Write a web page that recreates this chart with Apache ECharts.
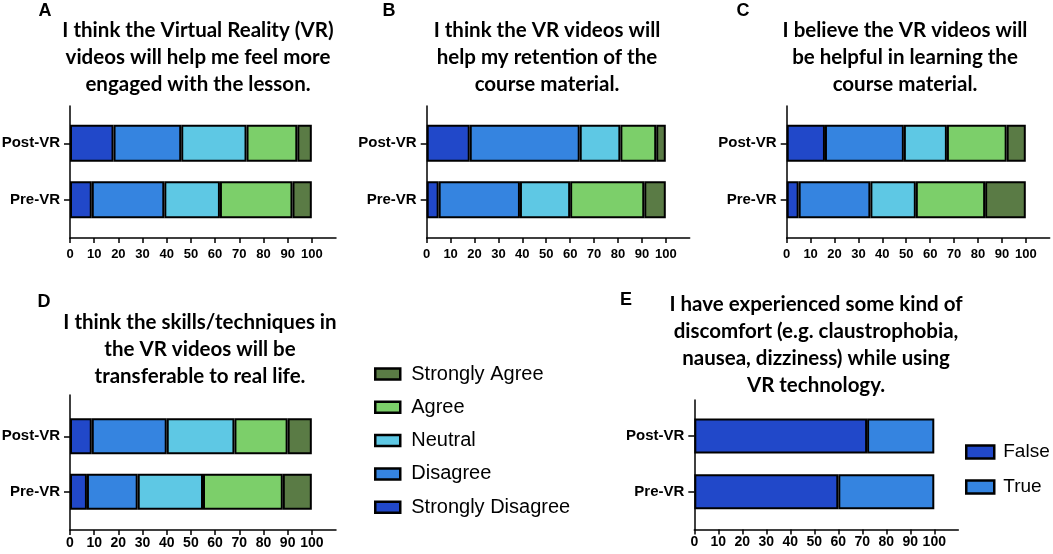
<!DOCTYPE html>
<html>
<head>
<meta charset="utf-8">
<script src="https://cdn.jsdelivr.net/npm/echarts@6/dist/echarts.min.js"></script>
<style>
html, body { margin: 0; padding: 0; background: #fff; }
#main { width: 1053px; height: 554px; }
</style>
</head>
<body>
<div id="main"></div>
<script>
var categories = ['Pre-VR', 'Post-VR'];
var levels = ['Strongly Disagree', 'Disagree', 'Neutral', 'Agree', 'Strongly Agree'];
var legendLevels = ['Strongly Agree', 'Agree', 'Neutral', 'Disagree', 'Strongly Disagree'];
var answers = ['False', 'True'];
var xTicks = [0, 10, 20, 30, 40, 50, 60, 70, 80, 90, 100];

// percent per level, [Pre-VR, Post-VR]
var panelA = [[9, 18], [30, 28], [23, 27], [30, 21], [8, 6]];
var panelB = [[5, 18], [34, 46], [21, 17], [31, 15], [9, 4]];
var panelC = [[5, 16], [30, 33], [19, 18], [29, 25], [17, 8]];
var panelD = [[7, 9], [21, 31], [27, 28], [33, 22], [12, 10]];
var panelE = [[60, 72], [40, 28]];

var titleA = 'I think the Virtual Reality (VR)\nvideos will help me feel more\nengaged with the lesson.';
var titleB = 'I think the VR videos will\nhelp my retention of the\ncourse material.';
var titleC = 'I believe the VR videos will\nbe helpful in learning the\ncourse material.';
var titleD = 'I think the skills/techniques in\nthe VR videos will be\ntransferable to real life.';
var titleE = 'I have experienced some kind of\ndiscomfort (e.g. claustrophobia,\nnausea, dizziness) while using\nVR technology.';

var levelColors = ['#2148c9', '#3584e0', '#5ec8e4', '#7ccf6a', '#5a7b45'];
var answerColors = ['#2148c9', '#3584e0'];

// frame = box of the axis lines, bar = box the two bars sit in
var panels = [
    {letter: 'A', lx: 45, ly: 11, title: titleA, tx: 198, ty: 57, left: 70, width: 266, top: 106, height: 132, barTop: 115, barHeight: 113, bw: 37, fs: 13, lm: 10, data: panelA, names: levels, colors: levelColors},
    {letter: 'B', lx: 389, ly: 11, title: titleB, tx: 547, ty: 57, left: 426.7, width: 263, top: 106, height: 132, barTop: 115, barHeight: 113, bw: 37, fs: 13, lm: 10, data: panelB, names: levels, colors: levelColors},
    {letter: 'C', lx: 743, ly: 11, title: titleC, tx: 905, ty: 57, left: 786.7, width: 263, top: 106, height: 132, barTop: 115, barHeight: 113, bw: 37, fs: 13, lm: 10, data: panelC, names: levels, colors: levelColors},
    {letter: 'D', lx: 44, ly: 302, title: titleD, tx: 200, ty: 349, left: 70, width: 266, top: 395, height: 135, barTop: 408.5, barHeight: 111, bw: 36, fs: 14, lm: 6, data: panelD, names: levels, colors: levelColors},
    {letter: 'E', lx: 626, ly: 300, title: titleE, tx: 816, ty: 345, left: 694.3, width: 264, top: 400, height: 129.5, barTop: 408, barHeight: 111.5, bw: 35, fs: 14, lm: 6, data: panelE, names: answers, colors: answerColors}
];

var font = 'Liberation Sans';
var grids = [], xAxes = [], yAxes = [], series = [], graphics = [];

panels.forEach(function (p, i) {
    grids.push({left: p.left, top: p.top, width: p.width, height: p.height, outerBoundsMode: 'none'});
    grids.push({left: p.left, top: p.barTop, width: p.width, height: p.barHeight, outerBoundsMode: 'none'});

    xAxes.push({
        type: 'value', gridIndex: 2 * i, min: 0, max: 110,
        axisLine: {show: true, onZero: false, lineStyle: {color: '#000', width: 1.5}},
        axisTick: {show: true, length: 5, customValues: xTicks, lineStyle: {color: '#000', width: 1.5}},
        axisLabel: {customValues: xTicks, color: '#000', fontFamily: font, fontWeight: 'bold', fontSize: p.fs, margin: p.lm},
        splitLine: {show: false}
    });
    xAxes.push({type: 'value', gridIndex: 2 * i + 1, min: 0, max: 110, show: false});

    yAxes.push({
        type: 'value', gridIndex: 2 * i,
        axisLine: {show: true, onZero: false, lineStyle: {color: '#000', width: 1.5}},
        axisTick: {show: false}, axisLabel: {show: false}, splitLine: {show: false}
    });
    yAxes.push({
        type: 'category', gridIndex: 2 * i + 1, data: categories,
        axisLine: {show: false},
        axisTick: {show: true, alignWithLabel: true, length: 6, lineStyle: {color: '#000', width: 1.5}},
        axisLabel: {color: '#000', fontFamily: font, fontWeight: 'bold', fontSize: 15, margin: 10}
    });

    p.data.forEach(function (vals, j) {
        series.push({
            type: 'bar', name: p.names[j], stack: 'panel' + i,
            xAxisIndex: 2 * i + 1, yAxisIndex: 2 * i + 1,
            barWidth: p.bw, data: vals, silent: true,
            itemStyle: {color: p.colors[j], borderColor: '#000', borderWidth: 2},
            emphasis: {disabled: true}
        });
    });

    graphics.push({
        type: 'text', x: p.lx, y: p.ly,
        style: {text: p.letter, fontFamily: font, fontWeight: 'bold', fontSize: 18, fill: '#000',
            align: 'center', verticalAlign: 'middle', textAlign: 'center', textVerticalAlign: 'middle'}
    });
    graphics.push({
        type: 'text', x: p.tx, y: p.ty,
        style: {text: p.title, fontFamily: 'Lato', fontWeight: 'bold', fontSize: 20.5, lineHeight: 27, fill: '#000',
            align: 'center', verticalAlign: 'middle', textAlign: 'center', textVerticalAlign: 'middle'}
    });
});

var option = {
    backgroundColor: '#fff',
    animation: false,
    grid: grids,
    xAxis: xAxes,
    yAxis: yAxes,
    legend: [
        {
            data: legendLevels, orient: 'vertical', left: 369, top: 359,
            itemWidth: 25, itemHeight: 11, itemGap: 13.3, icon: 'rect',
            selectedMode: false,
            itemStyle: {borderColor: '#000', borderWidth: 2.5},
            textStyle: {fontFamily: font, fontSize: 20, lineHeight: 20, color: '#000', padding: [0, 0, 0, 6]}
        },
        {
            data: answers, orient: 'vertical', left: 960, top: 437,
            itemWidth: 28, itemHeight: 13, itemGap: 15, icon: 'rect',
            selectedMode: false,
            itemStyle: {borderColor: '#000', borderWidth: 2.5},
            textStyle: {fontFamily: font, fontSize: 19, lineHeight: 20, color: '#000', padding: [0, 0, 0, 4]}
        }
    ],
    graphic: graphics,
    series: series
};

var chart = echarts.init(document.getElementById('main'));
chart.setOption(option);
</script>
</body>
</html>
